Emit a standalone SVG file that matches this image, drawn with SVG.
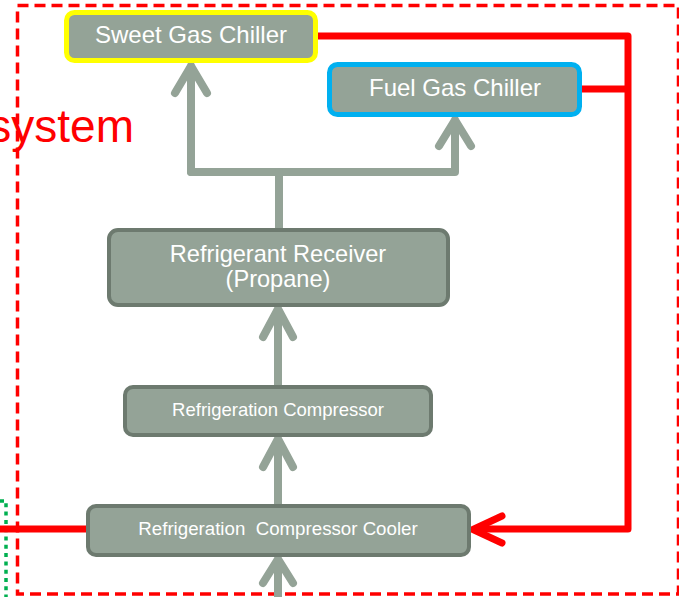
<svg xmlns="http://www.w3.org/2000/svg" width="679" height="597" viewBox="0 0 679 597">
<style>
.box{fill:#94A397;stroke:#6D7A6F;stroke-width:4}
.lbl{fill:#FFFFFF;font-family:"Liberation Sans",Arial,sans-serif;text-anchor:middle}
.gc{fill:none;stroke:#94A397;stroke-width:8;stroke-linecap:round;stroke-linejoin:round}
.rc{fill:none;stroke:#FF0000;stroke-width:7;stroke-linejoin:round}
</style>
<rect width="679" height="597" fill="#FFFFFF"/>
<rect x="17.5" y="5.5" width="661" height="588.5" fill="none" stroke="#FF0000" stroke-width="3.5" stroke-dasharray="11,6"/>
<path d="M0,501 H6 V597" fill="none" stroke="#00B050" stroke-width="3.5" stroke-dasharray="4,4.3"/>
<text x="134" y="142" font-family="'Liberation Sans',Arial,sans-serif" font-size="46" fill="#FF0000" text-anchor="end">system</text>
<g id="connectors">
<path class="gc" d="M191,172 V66 M175,93 L191,66 L207,93"/>
<path class="gc" d="M191,172 H455 V120 M439,146 L455,120 L471,146"/>
<path class="gc" d="M279,172 V228"/>
<path class="gc" d="M278,385 V309 M263,337 L278,309 L293,337"/>
<path class="gc" d="M278,504 V439 M263,467 L278,439 L293,467"/>
<path class="gc" d="M278,600 V559 M263,583 L278,559 L293,583"/>
<path class="rc" d="M318,36 H628 V529 H474"/>
<path class="rc" d="M582,89 H628"/>
<path class="rc" d="M502,516 L473,529.5 L502,543" stroke-linecap="round"/>
<path class="rc" d="M0,529 H88"/>
</g>
<g id="sweet-gas-chiller">
<rect x="66.5" y="12.5" width="249" height="48" rx="8" fill="#94A397" stroke="#FFFF00" stroke-width="5"/>
<text class="lbl" x="191" y="43" font-size="24">Sweet Gas Chiller</text>
</g>
<g id="fuel-gas-chiller">
<rect x="329.5" y="64.5" width="250" height="50" rx="8" fill="#94A397" stroke="#00B0F0" stroke-width="5"/>
<text class="lbl" x="455" y="96" font-size="24">Fuel Gas Chiller</text>
</g>
<g id="refrigerant-receiver">
<rect class="box" x="109" y="230" width="339" height="75" rx="9"/>
<text class="lbl" x="278" y="262" font-size="23.6">Refrigerant Receiver</text>
<text class="lbl" x="278" y="286.5" font-size="23.6">(Propane)</text>
</g>
<g id="refrigeration-compressor">
<rect class="box" x="125" y="387" width="306" height="48" rx="8"/>
<text class="lbl" x="278" y="416" font-size="18.5">Refrigeration Compressor</text>
</g>
<g id="refrigeration-compressor-cooler">
<rect class="box" x="88" y="506" width="381" height="49" rx="8"/>
<text class="lbl" x="278" y="535" font-size="18.7" xml:space="preserve">Refrigeration  Compressor Cooler</text>
</g>
</svg>
